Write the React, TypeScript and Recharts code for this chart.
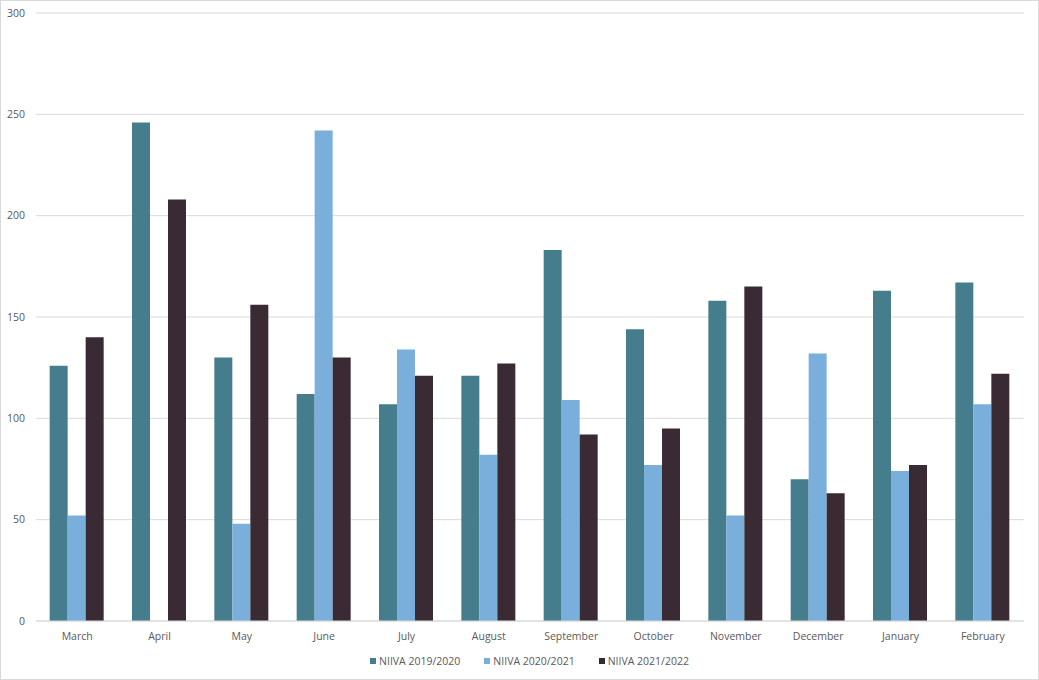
import * as React from "react";
import {
  Bar,
  BarChart,
  CartesianGrid,
  Legend,
  XAxis,
  YAxis
} from "recharts";

const months = [
  "March", "April", "May", "June", "July", "August",
  "September", "October", "November", "December", "January", "February"
];
const niiva1920 = [126, 246, 130, 112, 107, 121, 183, 144, 158, 70, 163, 167];
const niiva2021 = [52, 0, 48, 242, 134, 82, 109, 77, 52, 132, 74, 107];
const niiva2122 = [140, 208, 156, 130, 121, 127, 92, 95, 165, 63, 77, 122];
const yTicks = [0, 50, 100, 150, 200, 250, 300];

const series = [
  { key: "a", name: "NIIVA 2019/2020", color: "#467d8c" },
  { key: "b", name: "NIIVA 2020/2021", color: "#7aafdb" },
  { key: "c", name: "NIIVA 2021/2022", color: "#3a2a33" },
];

const data = months.map((m, i) => ({
  month: m,
  a: niiva1920[i],
  b: niiva2021[i],
  c: niiva2122[i],
}));

const font = "'Open Sans', 'Noto Sans', sans-serif";

function LegendBox() {
  return (
    <div style={{ display: "flex", justifyContent: "center", gap: 24, paddingTop: 3, paddingLeft: 34, fontFamily: font, fontSize: 10.5, color: "#595959" }}>
      {series.map((s) => (
        <span key={s.key} style={{ display: "flex", alignItems: "center" }}>
          <span style={{ width: 6, height: 6, background: s.color, display: "inline-block", marginRight: 3 }} />
          {s.name}
        </span>
      ))}
    </div>
  );
}

export default function App() {
  return (
    <div
      style={{
        position: "fixed",
        top: 0,
        left: 0,
        width: 1039,
        height: 680,
        boxSizing: "border-box",
        border: "1px solid #d9d9d9",
        background: "#fff",
      }}
    >
      <BarChart
        width={1037}
        height={678}
        data={data}
        margin={{ top: 12, right: 14, left: 0, bottom: 0 }}
        barCategoryGap="16.6%"
        barGap={0}
      >
        <CartesianGrid vertical={false} stroke="#d9d9d9" />
        <XAxis
          dataKey="month"
          height={30}
          tickLine={false}
          axisLine={{ stroke: "#d9d9d9" }}
          tickSize={0}
          tickMargin={12}
          tick={{ fill: "#595959", fontSize: 10.5, fontFamily: font }}
        />
        <YAxis
          width={35}
          domain={[0, 300]}
          ticks={yTicks}
          tickLine={false}
          axisLine={false}
          tickSize={0}
          tickMargin={11}
          tick={{ fill: "#595959", fontSize: 10.5, fontFamily: font }}
        />
        <Legend verticalAlign="bottom" height={28} content={<LegendBox />} />
        {series.map((s) => (
          <Bar key={s.key} dataKey={s.key} name={s.name} fill={s.color} isAnimationActive={false} />
        ))}
      </BarChart>
    </div>
  );
}
